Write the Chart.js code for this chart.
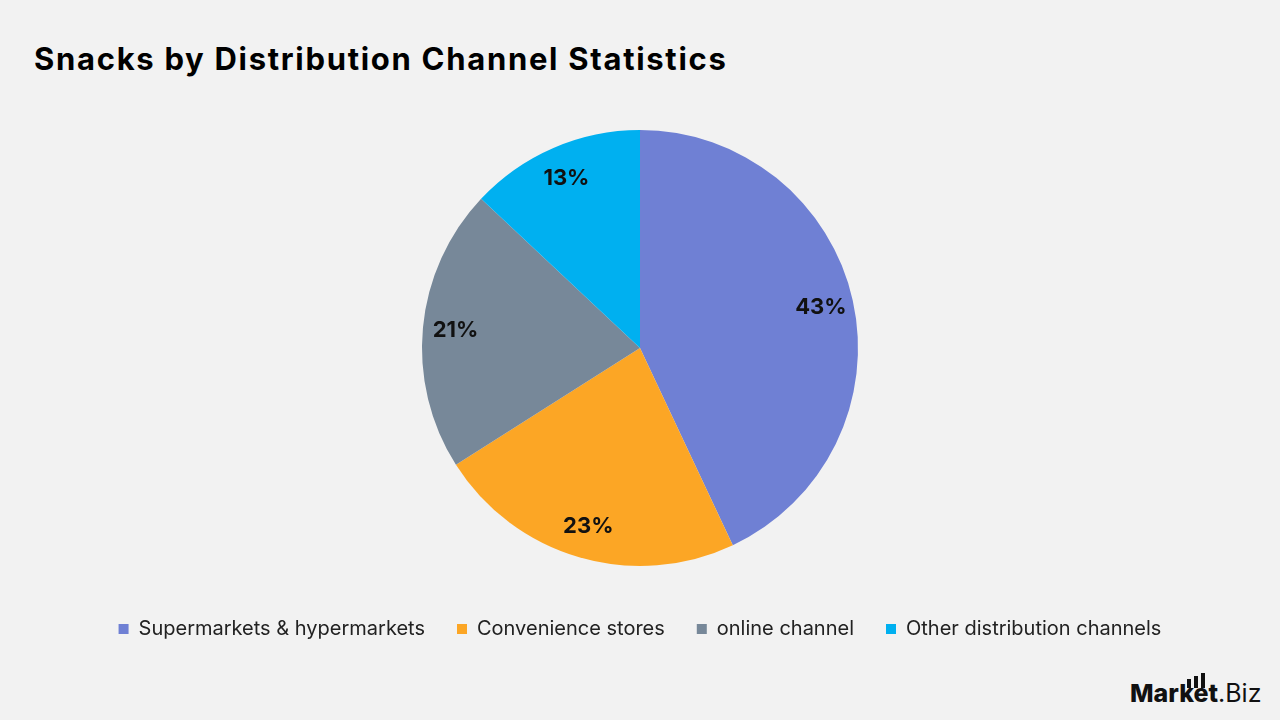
<!DOCTYPE html>
<html>
<head>
<meta charset="utf-8">
<script src="https://cdn.jsdelivr.net/npm/chart.js@4.4.0/dist/chart.umd.min.js"></script>
<style>
  body { margin: 0; background: #f2f2f2; font-family: Inter, "Open Sans", sans-serif; }
  #wrap { position: relative; width: 1280px; height: 720px; overflow: hidden; }
  h1 { position: absolute; left: 34px; top: 40px; margin: 0; font-size: 31px; font-weight: 700; color: #000; letter-spacing: 1.7px; }
  #box { position: absolute; left: 0; top: 109px; width: 1280px; height: 540px; }
  #logo { position: absolute; left: 1130px; top: 678px; font-size: 25px; color: #111; letter-spacing: 0px; }
  #logo b { font-weight: 800; }
  .bar { position: absolute; width: 4px; background: #111; }
</style>
</head>
<body>
<div id="wrap">
  <h1>Snacks by Distribution Channel Statistics</h1>
  <div id="box"><canvas id="pieChart"></canvas></div>
  <div id="logo"><b>Market</b>.Biz</div>
  <div class="bar" style="left:1187px;top:679px;height:9px"></div>
  <div class="bar" style="left:1194px;top:676px;height:12px"></div>
  <div class="bar" style="left:1201px;top:673px;height:15px"></div>
</div>
<script>
// data
const channels = ['Supermarkets & hypermarkets', 'Convenience stores', 'online channel', 'Other distribution channels'];
const shares = [43, 23, 21, 13];
const sliceColors = ['#6f80d4', '#fca625', '#778899', '#00b0f0'];

// percent labels inside the slices
const sliceLabels = {
    id: 'sliceLabels',
    afterDatasetsDraw(chart) {
        const ctx = chart.ctx;
        const meta = chart.getDatasetMeta(0);
        ctx.save();
        ctx.font = 'bold 22px Inter, sans-serif';
        ctx.fillStyle = '#111';
        ctx.textAlign = 'center';
        ctx.textBaseline = 'middle';
        meta.data.forEach((arc, i) => {
            const mid = (arc.startAngle + arc.endAngle) / 2;
            const r = arc.outerRadius * 0.85;
            ctx.fillText(shares[i] + '%', arc.x + Math.cos(mid) * r, arc.y + Math.sin(mid) * r);
        });
        ctx.restore();
    }
};

const pieChart = new Chart(document.getElementById('pieChart'), {
    type: 'pie',
    data: {
        labels: channels,
        datasets: [{
            data: shares,
            backgroundColor: sliceColors,
            borderWidth: 0
        }]
    },
    options: {
        responsive: true,
        maintainAspectRatio: false,
        animation: false,
        radius: 218,
        layout: { padding: 0 },
        plugins: {
            legend: {
                position: 'bottom',
                labels: {
                    font: { size: 20, family: 'Inter, sans-serif' },
                    color: '#222',
                    boxWidth: 10,
                    boxHeight: 10,
                    padding: 32
                }
            },
            tooltip: { enabled: false }
        }
    },
    plugins: [sliceLabels]
});
</script>
</body>
</html>
